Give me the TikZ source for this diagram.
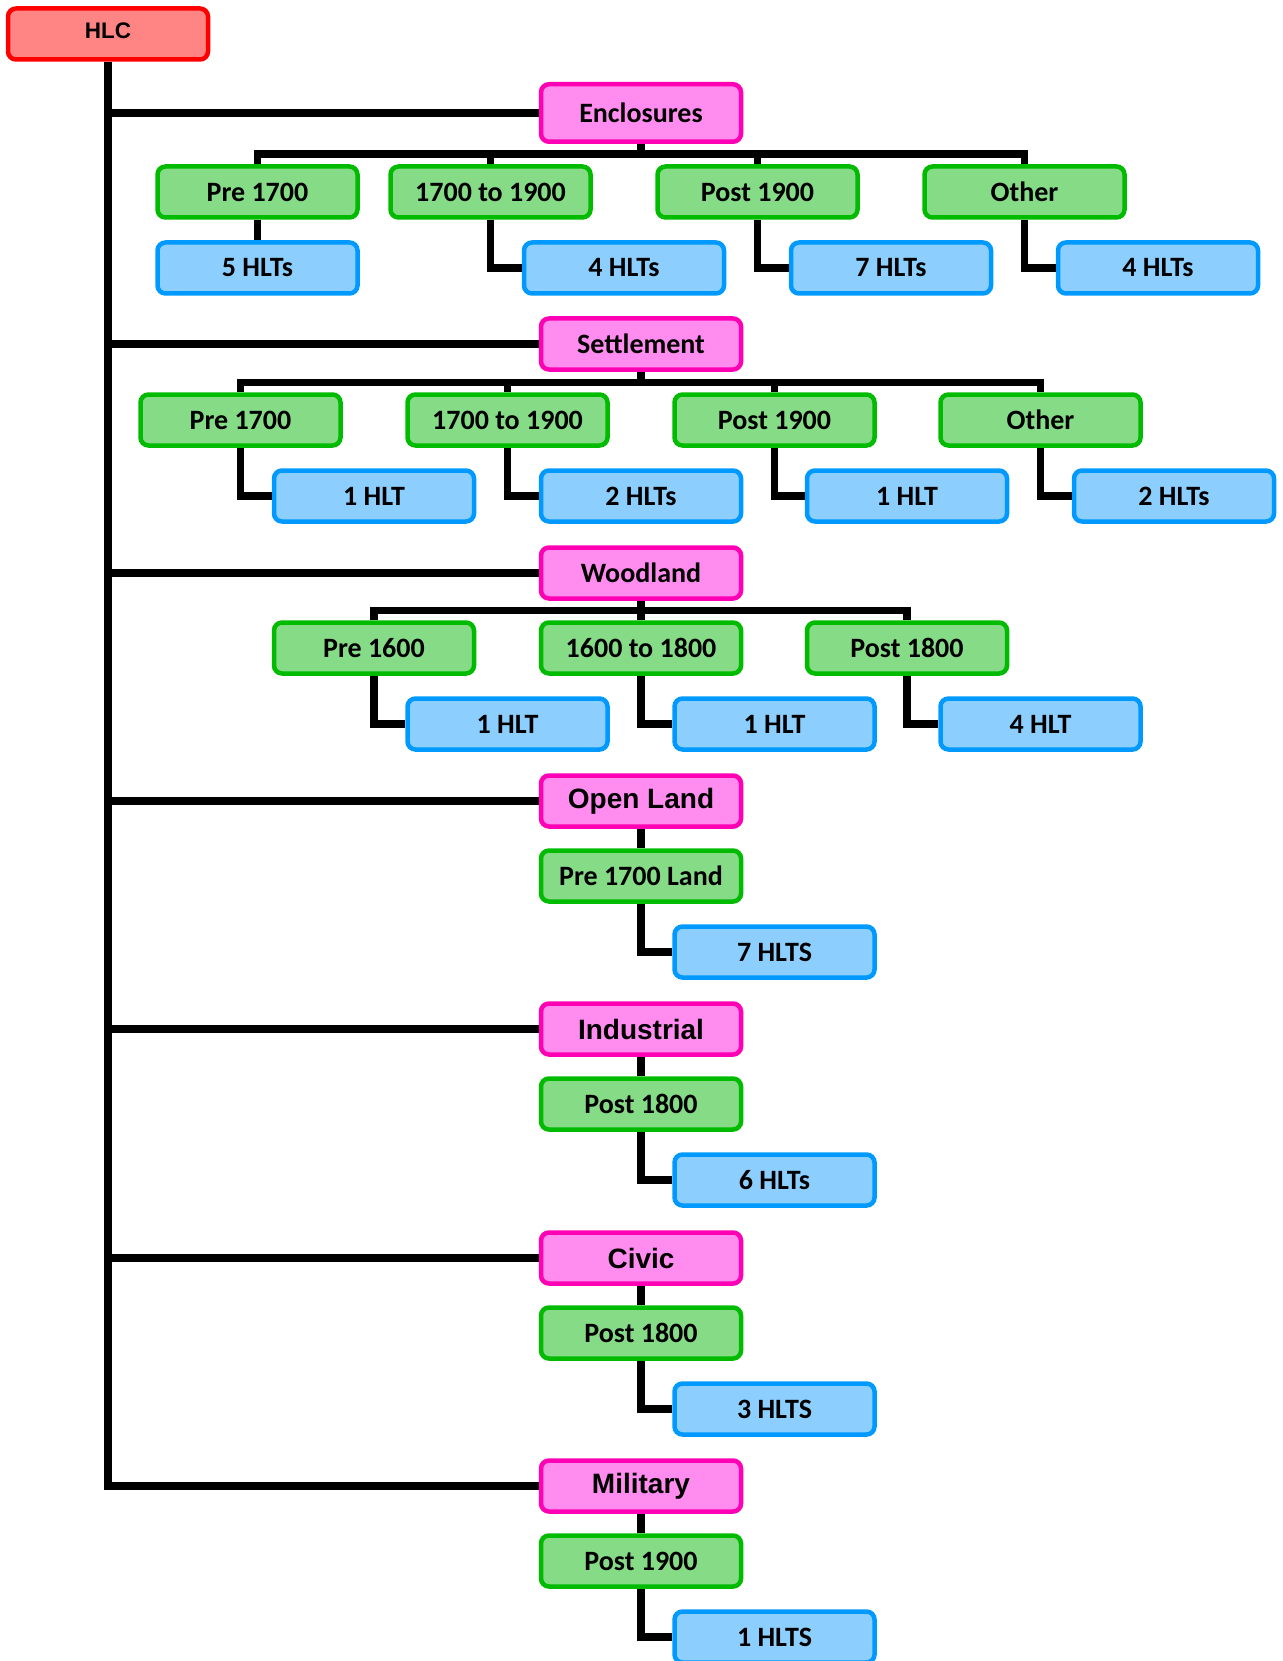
\documentclass[tikz,border=0pt]{standalone}
\usepackage{fontspec}
\newfontfamily\calfont{Carlito}
\newfontfamily\arifont{Liberation Sans}
\definecolor{redfill}{HTML}{FF8585}
\definecolor{redline}{HTML}{FF0000}
\definecolor{magfill}{HTML}{FF8CEE}
\definecolor{magline}{HTML}{FF00B4}
\definecolor{grnfill}{HTML}{86DB86}
\definecolor{grnline}{HTML}{00BB00}
\definecolor{blufill}{HTML}{8CCFFF}
\definecolor{bluline}{HTML}{0099FF}
\tikzset{
  box/.style={rounded corners=8pt, line width=4.5pt, minimum width=200pt, minimum height=51pt, inner sep=0pt,
    font=\calfont\bfseries\fontsize{28}{30}\selectfont, text=black},
  ari/.style={font=\arifont\bfseries\fontsize{28}{30}\selectfont},
  rbox/.style={box, draw=redline, fill=redfill, minimum width=200pt, minimum height=51pt, font=\arifont\bfseries\fontsize{22.5}{24}\selectfont},
  mbox/.style={box, draw=magline, fill=magfill},
  gbox/.style={box, draw=grnline, fill=grnfill},
  bbox/.style={box, draw=bluline, fill=blufill},
  conn/.style={line width=7.5pt, draw=black, line join=miter},
}
\begin{document}
\begin{tikzpicture}[x=1pt,y=-1pt]
\useasboundingbox (0,0) rectangle (1282,1661);
\clip (0,0) rectangle (1282,1661);
% HLC
\node[rbox] (hlc) at (108,34) {\raisebox{0.3em}{HLC}};
% magenta
\node[mbox, minimum height=57.5pt] (enc) at (641,113) {Enclosures};
\node[mbox] (set) at (641,344) {Settlement};
\node[mbox] (woo) at (641,573) {Woodland};
\node[mbox,ari] (ope) at (641,801) {Open Land};
\node[mbox,ari] (ind) at (641,1029) {Industrial};
\node[mbox,ari] (civ) at (641,1258) {Civic};
\node[mbox,ari] (mil) at (641,1486) {Military};
% Enclosures
\node[gbox] (e1) at (257.5,192) {Pre 1700};
\node[gbox] (e2) at (490.5,192) {1700 to 1900};
\node[gbox] (e3) at (757.5,192) {Post 1900};
\node[gbox] (e4) at (1024.5,192) {Other};
\node[bbox] (eb1) at (257.5,268) {5 HLTs};
\node[bbox] (eb2) at (624,268) {4 HLTs};
\node[bbox] (eb3) at (891,268) {7 HLTs};
\node[bbox] (eb4) at (1158,268) {4 HLTs};
% Settlement
\node[gbox] (s1) at (240.5,420) {Pre 1700};
\node[gbox] (s2) at (507.5,420) {1700 to 1900};
\node[gbox] (s3) at (774.5,420) {Post 1900};
\node[gbox] (s4) at (1040.5,420) {Other};
\node[bbox] (sb1) at (374,496) {1 HLT};
\node[bbox] (sb2) at (641,496) {2 HLTs};
\node[bbox] (sb3) at (907,496) {1 HLT};
\node[bbox] (sb4) at (1174,496) {2 HLTs};
% Woodland
\node[gbox] (w1) at (374,648) {Pre 1600};
\node[gbox] (w2) at (641,648) {1600 to 1800};
\node[gbox] (w3) at (907,648) {Post 1800};
\node[bbox] (wb1) at (507.5,724) {1 HLT};
\node[bbox] (wb2) at (774.5,724) {1 HLT};
\node[bbox] (wb3) at (1040.5,724) {4 HLT};
% single chains
\node[gbox] (og) at (641,876) {Pre 1700 Land};
\node[bbox] (ob) at (774.5,952) {7 HLTS};
\node[gbox] (ig) at (641,1104) {Post 1800};
\node[bbox] (ib) at (774.5,1180) {6 HLTs};
\node[gbox] (cg) at (641,1333) {Post 1800};
\node[bbox] (cb) at (774.5,1409) {3 HLTS};
\node[gbox] (mg) at (641,1561) {Post 1900};
\node[bbox] (mb) at (774.5,1637) {1 HLTS};

% trunk
\draw[conn] (hlc.south) -- (hlc.south |- mil.west) -- (mil.west);
\foreach \m in {enc,set,woo,ope,ind,civ}{
  \draw[conn] (hlc.south |- \m.west) -- (\m.west);
}
% enclosures bus
\coordinate (ebus) at (641,154);
\draw[conn] (enc.south) -- (ebus);
\draw[conn] (e1.north) -- (e1.north |- ebus) -- (e4.north |- ebus) -- (e4.north);
\draw[conn] (e2.north) -- (e2.north |- ebus);
\draw[conn] (e3.north) -- (e3.north |- ebus);
\draw[conn] (e1.south) -- (eb1.north);
\draw[conn] (e2.south) |- (eb2.west);
\draw[conn] (e3.south) |- (eb3.west);
\draw[conn] (e4.south) |- (eb4.west);
% settlement bus
\coordinate (sbus) at (641,382.5);
\draw[conn] (set.south) -- (sbus);
\draw[conn] (s1.north) -- (s1.north |- sbus) -- (s4.north |- sbus) -- (s4.north);
\draw[conn] (s2.north) -- (s2.north |- sbus);
\draw[conn] (s3.north) -- (s3.north |- sbus);
\draw[conn] (s1.south) |- (sb1.west);
\draw[conn] (s2.south) |- (sb2.west);
\draw[conn] (s3.south) |- (sb3.west);
\draw[conn] (s4.south) |- (sb4.west);
% woodland bus
\coordinate (wbus) at (641,610.5);
\draw[conn] (woo.south) -- (w2.north);
\draw[conn] (w1.north) -- (w1.north |- wbus) -- (w3.north |- wbus) -- (w3.north);
\draw[conn] (w1.south) |- (wb1.west);
\draw[conn] (w2.south) |- (wb2.west);
\draw[conn] (w3.south) |- (wb3.west);
% chains
\draw[conn] (ope.south) -- (og.north);
\draw[conn] (og.south) |- (ob.west);
\draw[conn] (ind.south) -- (ig.north);
\draw[conn] (ig.south) |- (ib.west);
\draw[conn] (civ.south) -- (cg.north);
\draw[conn] (cg.south) |- (cb.west);
\draw[conn] (mil.south) -- (mg.north);
\draw[conn] (mg.south) |- (mb.west);
\end{tikzpicture}
\end{document}
